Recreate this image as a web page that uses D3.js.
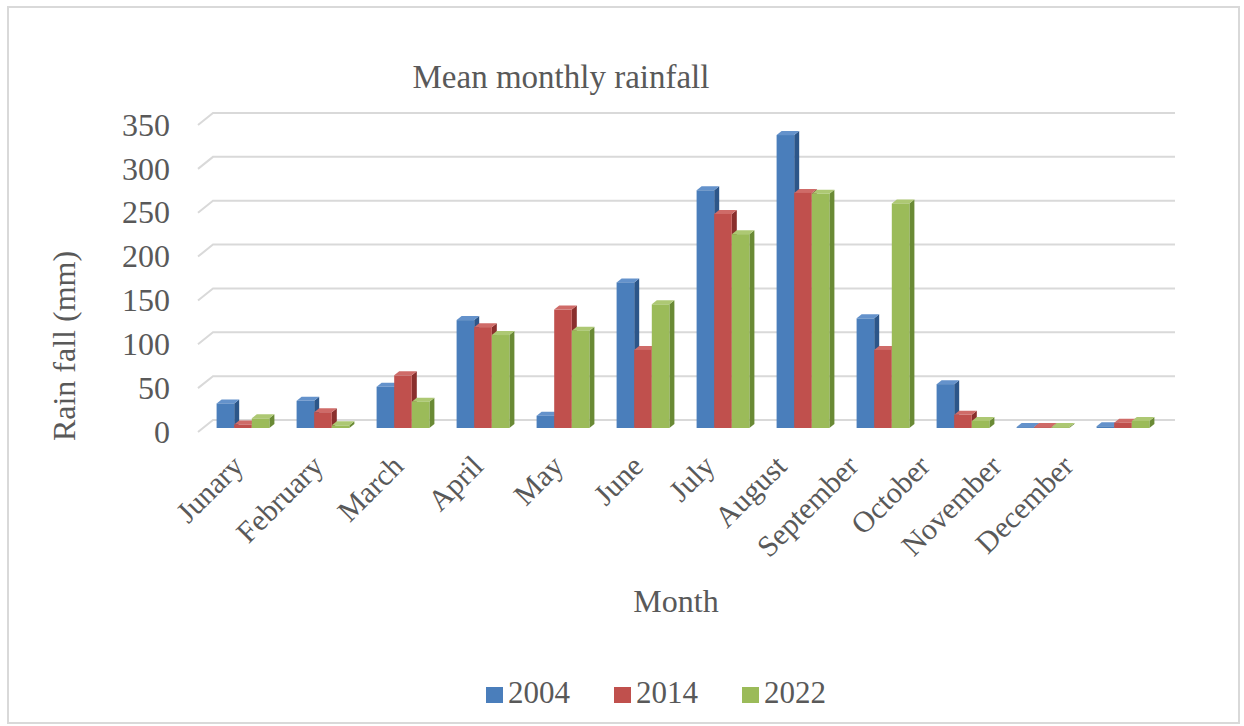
<!DOCTYPE html>
<html>
<head>
<meta charset="utf-8">
<script src="https://cdn.jsdelivr.net/npm/d3@7"></script>
<style>
  body { margin: 0; background: #fff; }
  text { font-family: "Liberation Serif", "Times New Roman", serif; fill: #595959; }
</style>
</head>
<body>
<svg width="1244" height="726"></svg>
<script>
const months = ['Junary', 'February', 'March', 'April', 'May', 'June',
  'July', 'August', 'September', 'October', 'November', 'December'];
const seriesNames = ['2004', '2014', '2022'];
const rain2004 = [28, 31, 47, 123, 14, 166, 271, 334, 125, 50, 1, 2];
const rain2014 = [4, 18, 60, 115, 135, 89, 244, 268, 89, 15, 1, 6];
const rain2022 = [11, 3, 30, 106, 111, 141, 221, 267, 256, 8, 1, 8];
const yTicks = [0, 50, 100, 150, 200, 250, 300, 350];

const seriesValues = [rain2004, rain2014, rain2022];
const colors = [
  { front: '#4a7ebb', side: '#2c5689', top: '#6492cb' },
  { front: '#c0504d', side: '#8a2f2d', top: '#cf6b68' },
  { front: '#9bbb59', side: '#6a8a35', top: '#adc873' }
];

const svg = d3.select('svg');

// outer frame
svg.append('rect')
  .attr('x', 8).attr('y', 7)
  .attr('width', 1231).attr('height', 716)
  .attr('fill', 'none')
  .attr('stroke', '#d9d9d9')
  .attr('stroke-width', 2);

// back wall scale
const y = d3.scaleLinear().domain([0, 350]).range([420, 113]);
const depth = { dx: -15, dy: 12 };   // floor front edge offset from back wall
const barShift = 8;                  // bars front face sits this far below back wall
const barDepth = { dx: 5, dy: -4 };

const x = d3.scaleBand()
  .domain(months)
  .range([203, 1163])
  .paddingInner(0.34)
  .paddingOuter(0.17);

const xs = d3.scaleBand()
  .domain(seriesNames)
  .range([0, x.bandwidth()]);

// gridlines, back wall + little slant on the side wall
const grid = svg.append('g');
yTicks.forEach(t => {
  grid.append('path')
    .attr('d', `M${213 + depth.dx},${y(t) + depth.dy}L213,${y(t)}L1175,${y(t)}`)
    .attr('fill', 'none')
    .attr('stroke', '#d9d9d9')
    .attr('stroke-width', 2);
});

// y axis labels
const yAxisG = svg.append('g')
  .attr('transform', `translate(170,${depth.dy})`)
  .call(d3.axisLeft(y).tickValues(yTicks).tickSize(0).tickPadding(0));
yAxisG.select('.domain').remove();
yAxisG.selectAll('text')
  .style('font-family', '"Liberation Serif", serif')
  .style('font-size', '32px')
  .attr('fill', '#595959');

// bars
const base = y(0) + barShift;
const bars = svg.append('g');
months.forEach((m, i) => {
  seriesNames.forEach((s, k) => {
    const v = seriesValues[k][i];
    const x0 = x(m) + xs(s);
    const x1 = x0 + xs.bandwidth();
    const top = y(v) + barShift;
    const c = colors[k];
    const g = bars.append('g');
    // side
    g.append('path')
      .attr('d', `M${x1},${top}L${x1 + barDepth.dx},${top + barDepth.dy}L${x1 + barDepth.dx},${base + barDepth.dy}L${x1},${base}Z`)
      .attr('fill', c.side);
    // top
    g.append('path')
      .attr('d', `M${x0},${top}L${x0 + barDepth.dx},${top + barDepth.dy}L${x1 + barDepth.dx},${top + barDepth.dy}L${x1},${top}Z`)
      .attr('fill', c.top);
    // front
    g.append('rect')
      .attr('x', x0).attr('y', top)
      .attr('width', xs.bandwidth())
      .attr('height', base - top)
      .attr('fill', c.front);
  });
});

// category labels (rotated)
const labelX = d3.scaleLinear().domain([0, 5, 11]).range([245, 645, 1075]);
svg.append('g').selectAll('text')
  .data(months)
  .join('text')
    .attr('transform', (d, i) => `translate(${labelX(i)},468) rotate(-45)`)
    .attr('text-anchor', 'end')
    .style('font-size', '30px')
    .text(d => d);

// titles
svg.append('text')
  .attr('x', 561).attr('y', 88)
  .attr('text-anchor', 'middle')
  .style('font-size', '33px')
  .text('Mean monthly rainfall');

svg.append('text')
  .attr('transform', 'translate(75,346) rotate(-90)')
  .attr('text-anchor', 'middle')
  .style('font-size', '32px')
  .text('Rain fall (mm)');

svg.append('text')
  .attr('x', 676).attr('y', 612)
  .attr('text-anchor', 'middle')
  .style('font-size', '32px')
  .text('Month');

// legend
const legend = svg.append('g');
seriesNames.forEach((s, k) => {
  const lx = 486 + k * 128;
  legend.append('rect')
    .attr('x', lx).attr('y', 687)
    .attr('width', 17).attr('height', 16)
    .attr('fill', colors[k].front);
  legend.append('text')
    .attr('x', lx + 22).attr('y', 703)
    .style('font-size', '31px')
    .text(s);
});
</script>
</body>
</html>
